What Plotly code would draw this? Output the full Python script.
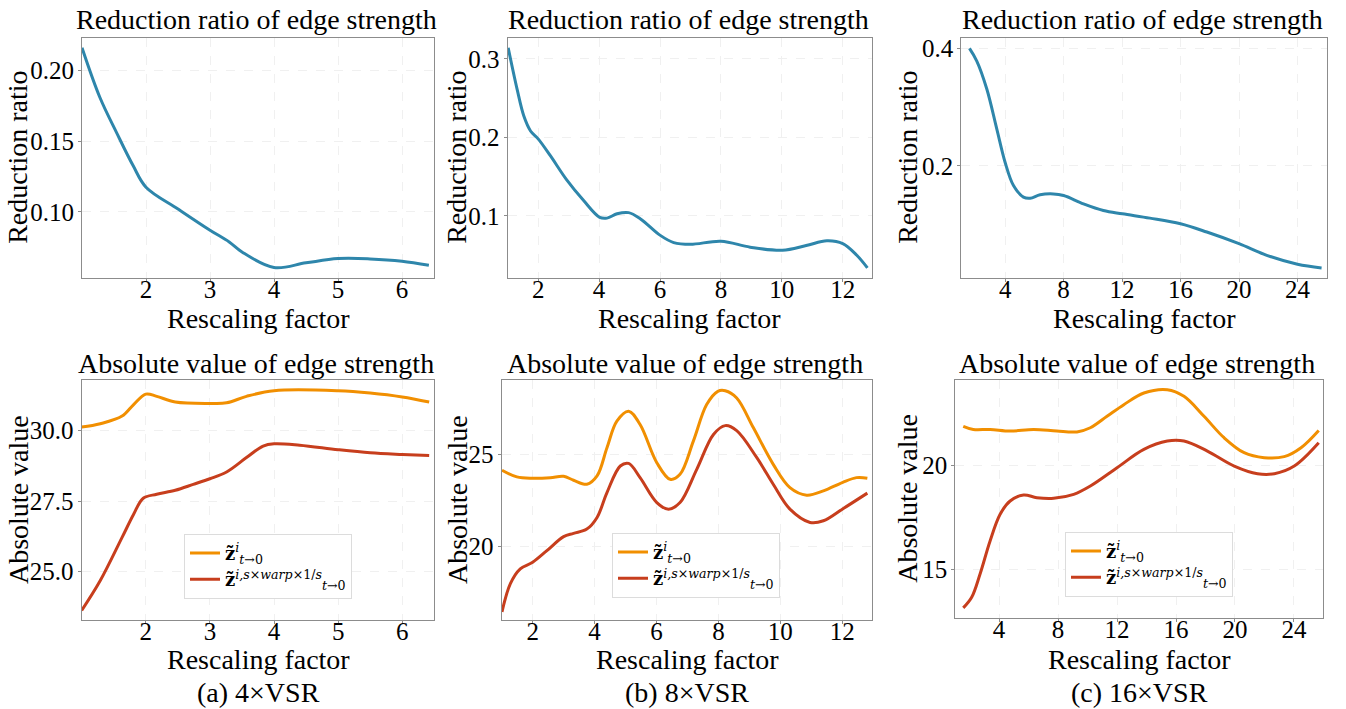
import plotly.graph_objects as go

W, H = 1346, 709

# ---------------- data ----------------
# (a) 4xVSR reduction ratio
x_a_ratio = [1.0, 1.28, 1.54, 1.80, 2.0, 2.5, 3.0, 3.3, 3.5, 4.0, 4.5, 5.0, 5.5, 6.0, 6.42]
y_a_ratio = [0.216, 0.1808, 0.156, 0.1325, 0.1174, 0.102, 0.087, 0.0787, 0.0716, 0.0606, 0.0639, 0.0669, 0.0667, 0.0651, 0.0622]

# (b) 8xVSR reduction ratio
x_b_ratio = [1.016, 1.31, 1.53, 1.75, 2.0, 2.40, 2.95, 3.50, 4.02, 4.26, 4.59, 4.97, 5.36, 6.01, 6.45,
             7.0, 8.0, 8.96, 10.02, 10.8, 11.48, 12.0, 12.46, 12.81]
y_b_ratio = [0.314, 0.261, 0.227, 0.208, 0.198, 0.1765, 0.145, 0.119, 0.098, 0.097, 0.1025, 0.104, 0.096,
             0.075, 0.0658, 0.0636, 0.0675, 0.060, 0.056, 0.062, 0.068, 0.0645, 0.0497, 0.0336]

# (c) 16xVSR reduction ratio
x_c_ratio = [1.56, 2.06, 2.75, 3.43, 4.0, 4.57, 5.25, 5.71, 6.39, 7.3, 8.0, 9.36, 10.72, 12.02, 13.9,
             16.0, 17.8, 20.0, 21.9, 24.0, 25.65]
y_c_ratio = [0.40, 0.3785, 0.3305, 0.2627, 0.206, 0.1667, 0.147, 0.145, 0.151, 0.1525, 0.1497, 0.1356,
             0.1243, 0.1186, 0.1113, 0.1017, 0.0876, 0.0678, 0.048, 0.0328, 0.0266]

# (a) 4xVSR absolute value
x_a_abs_z = [1.0, 1.29, 1.63, 1.81, 2.0, 2.17, 2.46, 3.0, 3.26, 3.57, 4.0, 5.0, 5.5, 6.0, 6.42]
y_a_abs_z = [30.12, 30.24, 30.51, 30.92, 31.29, 31.21, 31.01, 30.96, 30.98, 31.21, 31.41, 31.41, 31.33, 31.19, 31.01]
x_a_abs_w = [1.0, 1.29, 1.63, 1.81, 1.96, 2.17, 2.46, 2.74, 3.0, 3.26, 3.57, 3.83, 4.0, 4.4, 5.0, 5.5, 6.0, 6.42]
y_a_abs_w = [23.62, 24.68, 26.21, 27.03, 27.6, 27.74, 27.88, 28.09, 28.29, 28.53, 29.04, 29.45, 29.53,
             29.48, 29.32, 29.21, 29.15, 29.11]

# (b) 8xVSR absolute value
x_b_abs_z = [1.01, 1.49, 2.0, 2.57, 3.0, 3.32, 3.75, 4.08, 4.40, 4.72, 5.10, 5.47, 6.01, 6.44, 6.76,
             7.19, 7.62, 7.98, 8.22, 8.59, 9.13, 9.77, 10.31, 10.85, 11.39, 12.0, 12.46, 12.81]
y_b_abs_z = [24.14, 23.78, 23.71, 23.74, 23.81, 23.6, 23.38, 23.83, 25.36, 26.8, 27.34, 26.62, 24.55,
             23.65, 23.92, 25.72, 27.7, 28.42, 28.45, 28.06, 26.44, 24.46, 23.2, 22.79, 23.02, 23.47, 23.74, 23.71]
x_b_abs_w = [1.01, 1.28, 1.60, 2.0, 2.46, 3.0, 3.32, 3.75, 4.08, 4.40, 4.83, 5.10, 5.47, 6.01, 6.39,
             6.76, 7.30, 7.84, 8.22, 8.59, 9.24, 9.77, 10.31, 10.96, 11.39, 12.0, 12.81]
y_b_abs_w = [16.46, 17.99, 18.79, 19.15, 19.78, 20.54, 20.72, 20.95, 21.58, 22.93, 24.37, 24.51, 23.74,
             22.39, 22.03, 22.39, 24.19, 26.08, 26.56, 26.29, 24.82, 23.38, 22.03, 21.31, 21.4, 22.03, 22.9]

# (c) 16xVSR absolute value
x_c_abs_z = [1.57, 2.25, 3.39, 4.75, 6.34, 7.92, 9.28, 10.19, 11.32, 12.46, 13.82, 15.41, 16.54, 17.9,
             19.26, 20.62, 21.98, 23.34, 24.48, 25.68]
y_c_abs_z = [21.88, 21.73, 21.73, 21.65, 21.73, 21.65, 21.61, 21.81, 22.36, 22.92, 23.48, 23.64, 23.32,
             22.36, 21.33, 20.61, 20.37, 20.42, 20.85, 21.68]
x_c_abs_w = [1.57, 2.14, 2.71, 3.39, 4.07, 4.75, 5.66, 6.56, 7.70, 9.06, 10.19, 12.0, 13.82, 15.41, 16.54,
             18.13, 19.95, 21.53, 22.67, 24.02, 25.68]
y_c_abs_w = [13.15, 13.66, 14.78, 16.37, 17.65, 18.29, 18.58, 18.45, 18.42, 18.61, 19.01, 19.89, 20.77,
             21.17, 21.17, 20.69, 19.97, 19.6, 19.6, 19.97, 21.09]

title_top = "Reduction ratio of edge strength"
title_bot = "Absolute value of edge strength"
xlabel = "Rescaling factor"
ylabel_top = "Reduction ratio"
ylabel_bot = "Absolute value"
captions = ["(a) 4×VSR", "(b) 8×VSR", "(c) 16×VSR"]
legend_z = "<b>z̃</b><sup><i>i</i></sup><sub><i>t</i>→0</sub>"
legend_w = "<b>z̃</b><sup><i>i,s</i>×<i>warp</i>×1/<i>s</i></sup><sub><i>t</i>→0</sub>"

# ---------------- styling ----------------
BLUE = "#2E86AB"
ORANGE = "#F18F01"
RED = "#C73E1D"
FONT = "Liberation Serif"

# plot-area boxes in pixels: (left, top, right, bottom)
boxes = [
    (82, 35, 434, 276), (507.7, 35, 872.3, 276), (961.3, 35, 1326.7, 276),
    (81.7, 378.3, 434.3, 620), (501.7, 378.3, 872.3, 620), (955.3, 378.3, 1323, 617.5),
]
xranges = [[1, 6.5], [1, 12.97], [1, 26], [1, 6.5], [1, 12.97], [1.03, 25.97]]
yranges = [[0.0533, 0.223], [0.0209, 0.3267], [0.0097, 0.418], [23.27, 31.8], [16.0, 29.05], [12.67, 24.12]]
xticks = [[2, 3, 4, 5, 6], [2, 4, 6, 8, 10, 12], [4, 8, 12, 16, 20, 24]] * 2
yticks = [[0.10, 0.15, 0.20], [0.1, 0.2, 0.3], [0.2, 0.4], [25.0, 27.5, 30.0], [20, 25], [15, 20]]
yfmt = [".2f", ".1f", ".1f", ".1f", "d", "d"]

fig = go.Figure()

ratio_data = [(x_a_ratio, y_a_ratio), (x_b_ratio, y_b_ratio), (x_c_ratio, y_c_ratio)]
abs_data = [(x_a_abs_z, y_a_abs_z, x_a_abs_w, y_a_abs_w),
            (x_b_abs_z, y_b_abs_z, x_b_abs_w, y_b_abs_w),
            (x_c_abs_z, y_c_abs_z, x_c_abs_w, y_c_abs_w)]

for i, (xs, ys) in enumerate(ratio_data):
    n = i + 1
    fig.add_trace(go.Scatter(x=xs, y=ys, mode="lines", line=dict(color=BLUE, width=3, shape="spline", smoothing=1.0),
                             showlegend=False, xaxis=f"x{n}" if n > 1 else "x", yaxis=f"y{n}" if n > 1 else "y"))

legend_names = ["legend", "legend2", "legend3"]
for i, (xz, yz, xw, yw) in enumerate(abs_data):
    n = i + 4
    fig.add_trace(go.Scatter(x=xz, y=yz, mode="lines", name=legend_z,
                             line=dict(color=ORANGE, width=3, shape="spline", smoothing=1.0),
                             xaxis=f"x{n}", yaxis=f"y{n}", legend=legend_names[i]))
    fig.add_trace(go.Scatter(x=xw, y=yw, mode="lines", name=legend_w,
                             line=dict(color=RED, width=3, shape="spline", smoothing=1.0),
                             xaxis=f"x{n}", yaxis=f"y{n}", legend=legend_names[i]))

layout = dict(width=W, height=H, margin=dict(l=0, r=0, t=0, b=0),
              paper_bgcolor="white", plot_bgcolor="white",
              font=dict(family=FONT, size=24, color="black"))

for k, (l, t, r, b) in enumerate(boxes):
    n = k + 1
    sx = "" if n == 1 else str(n)
    common = dict(showline=True, linecolor="#8c8c8c", linewidth=1.2, mirror=True,
                  showgrid=True, gridcolor="#f0f0f0", griddash="dash", gridwidth=1,
                  ticks="outside", ticklen=3, tickcolor="#8c8c8c", zeroline=False,
                  tickfont=dict(family=FONT, size=25, color="black"))
    layout[f"xaxis{sx}"] = dict(domain=[l / W, r / W], range=xranges[k], tickvals=xticks[k],
                                anchor=f"y{sx}", ticklabelstandoff=-14, **common)
    layout[f"yaxis{sx}"] = dict(domain=[1 - b / H, 1 - t / H], range=yranges[k], tickvals=yticks[k],
                                tickformat=yfmt[k], anchor=f"x{sx}", ticklabelstandoff=-1, **common)

legend_pos = [(184, 533), (612, 532), (1065, 531)]
for i, (lx, ly) in enumerate(legend_pos):
    layout[legend_names[i]] = dict(x=lx / W, y=1 - ly / H, xanchor="left", yanchor="top",
                                   bgcolor="white", bordercolor="#dcdcdc", borderwidth=1,
                                   font=dict(family="DejaVu Serif", size=18, color="black"),
                                   tracegroupgap=4)

annotations = []
def ann(text, x, y, size=28, angle=0):
    annotations.append(dict(text=text, x=x / W, y=1 - y / H, xref="paper", yref="paper",
                            showarrow=False, xanchor="center", yanchor="middle",
                            textangle=angle, font=dict(family=FONT, size=size, color="black")))

ylabel_x = [18, 457, 908]
for k, (l, t, r, b) in enumerate(boxes):
    cx = (l + r) / 2
    cy = (t + b) / 2
    if k < 3:
        ann(title_top, cx - 2, 17)
        ann(xlabel, cx, 317)
        ann(ylabel_top, ylabel_x[k], cy, angle=-90)
    else:
        ann(title_bot, cx - 2, 362)
        ann(xlabel, cx, 659)
        ann(ylabel_bot, ylabel_x[k - 3], cy, angle=-90)
        ann(captions[k - 3], cx, 692)

layout["annotations"] = annotations
fig.update_layout(**layout)
fig.write_html("out.html")
